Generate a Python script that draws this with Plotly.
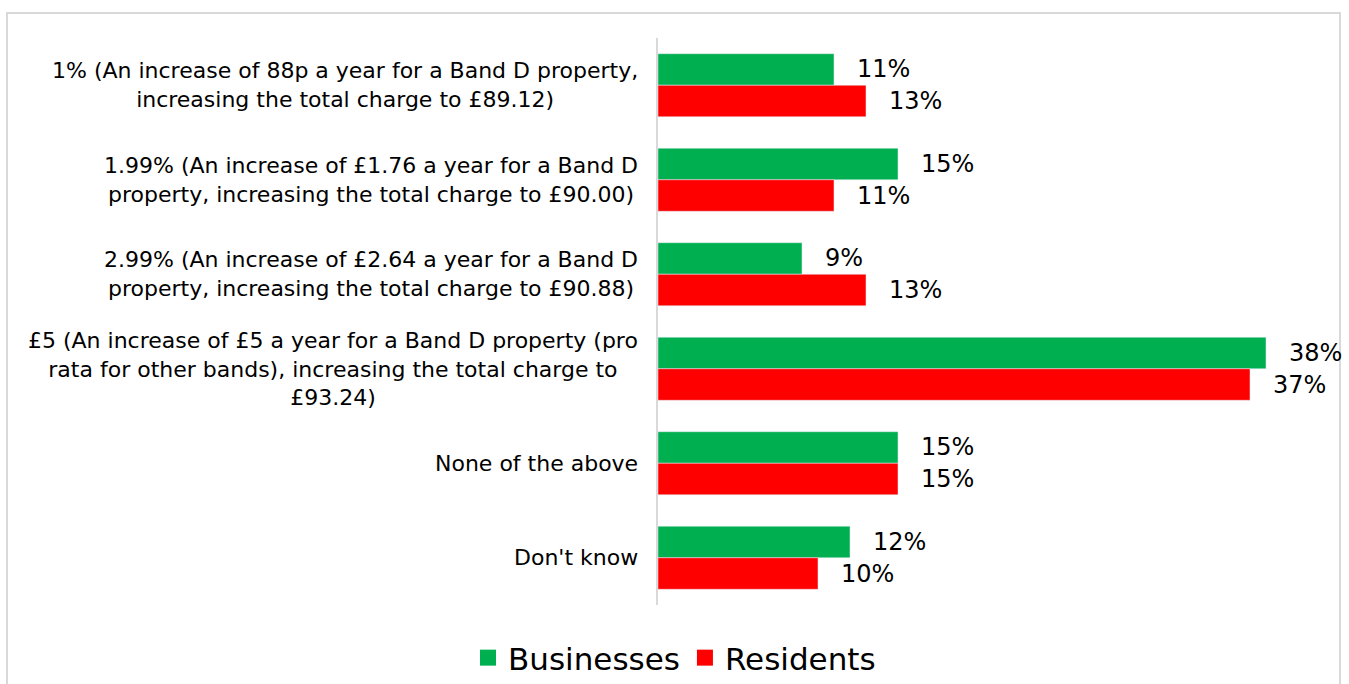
import plotly.graph_objects as go

categories = [
    "1% (An increase of 88p a year for a Band D property,<br>increasing the total charge to £89.12)",
    "1.99% (An increase of £1.76 a year for a Band D<br>property, increasing the total charge to £90.00)",
    "2.99% (An increase of £2.64 a year for a Band D<br>property, increasing the total charge to £90.88)",
    "£5 (An increase of £5 a year for a Band D property (pro<br>rata for other bands), increasing the total charge to<br>£93.24)",
    "None of the above",
    "Don't know",
]
businesses = [11, 15, 9, 38, 15, 12]
residents = [13, 11, 13, 37, 15, 10]
series_names = ["Businesses", "Residents"]
series_colors = ["#00B050", "#FF0000"]

FONT = "DejaVu Sans"
W, H = 1349, 684
L, R, T, B = 658, 11, 38, 79
pw, ph = W - L - R, H - T - B
PAD = "\u00a0\u00a0\u2009"

fig = go.Figure()
for name, vals, col in zip(series_names, [businesses, residents], series_colors):
    fig.add_trace(go.Bar(
        y=categories, x=vals, name=name, orientation="h", showlegend=False,
        marker_color=col, text=[f"{PAD}{v}%" for v in vals],
        textposition="outside", cliponaxis=False,
        textfont=dict(family=FONT, size=24, color="#000000"),
    ))
# legend-only markers (larger squares like the reference)
for name, col in zip(series_names, series_colors):
    fig.add_trace(go.Scatter(
        x=[None], y=[None], mode="markers", name=name,
        marker=dict(symbol="square", size=17, color=col),
    ))

annotations = []
for c in categories:
    annotations.append(dict(
        x=0, xref="paper", y=c, yref="y", xanchor="right", yanchor="middle",
        xshift=-18, text=c, showarrow=False, align="center",
        font=dict(family=FONT, size=22, color="#000000"),
    ))

fig.update_layout(
    width=W, height=H,
    margin=dict(l=L, r=R, t=T, b=B),
    paper_bgcolor="white", plot_bgcolor="white",
    barmode="group", bargap=0.333, bargroupgap=0,
    font=dict(family=FONT, color="#000000"),
    xaxis=dict(range=[0, pw / 16], visible=False, fixedrange=True),
    yaxis=dict(type="category", categoryorder="array", categoryarray=categories,
               autorange="reversed", showticklabels=False, showgrid=False,
               showline=True, linecolor="#d9d9d9", linewidth=2, ticks="",
               zeroline=False),
    legend=dict(orientation="h", xref="container", yref="container",
                x=0.5, xanchor="center", y=(H - 658) / H, yanchor="middle",
                font=dict(family=FONT, size=31, color="#000000"),
                traceorder="normal", itemsizing="trace"),
    annotations=annotations,
    showlegend=True,
    shapes=[dict(type="rect", xref="paper", yref="paper",
                 x0=(7 - L) / pw, x1=(1340 - L) / pw,
                 y0=(H - B - 720) / ph, y1=(H - B - 13) / ph,
                 line=dict(color="#d9d9d9", width=2), fillcolor="rgba(0,0,0,0)",
                 layer="below")],
)

fig.write_html("out.html")
